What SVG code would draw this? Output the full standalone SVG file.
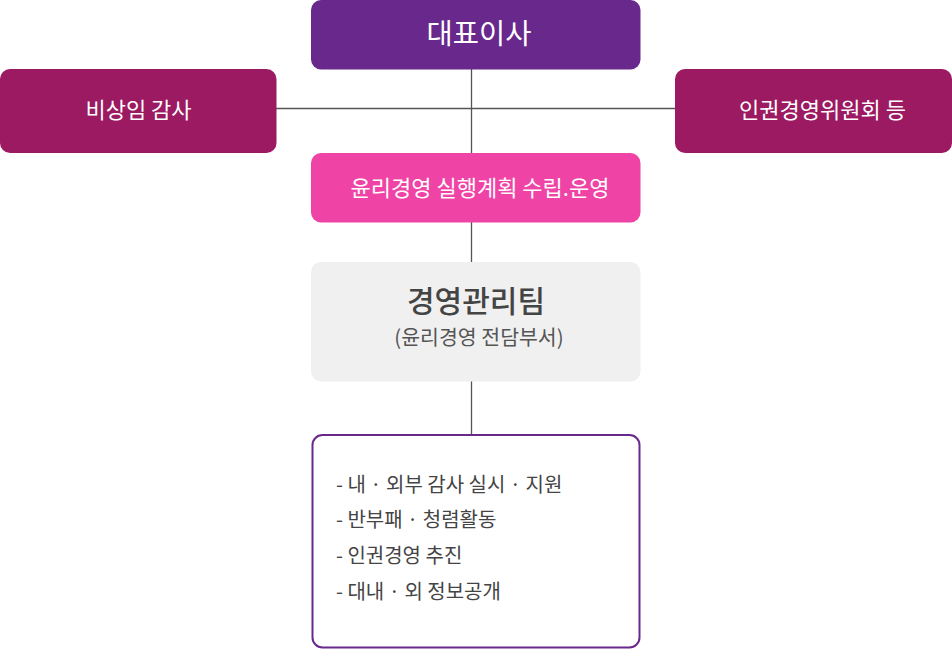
<svg xmlns="http://www.w3.org/2000/svg" width="952" height="649" viewBox="0 0 952 649">
<style>
text{font-family:"Noto Sans CJK KR","Noto Sans",sans-serif;}
.w{fill:#ffffff;font-size:22px;text-anchor:middle;font-weight:400;}
.line{stroke:#555555;stroke-width:1.3;fill:none;}
.li{fill:#444444;font-size:20px;font-weight:400;}
</style>
<rect width="952" height="649" fill="#ffffff"/>
<g id="connectors">
<line class="line" x1="471.5" y1="69" x2="471.5" y2="154"/>
<line class="line" x1="276" y1="108.5" x2="676" y2="108.5"/>
<line class="line" x1="471.5" y1="222" x2="471.5" y2="263"/>
<line class="line" x1="471.5" y1="381" x2="471.5" y2="435"/>
</g>
<g id="ceo">
<rect x="311" y="0" width="329.5" height="69.5" rx="10" fill="#68288c"/>
<text x="479" y="44" class="w" style="font-size:28.5px">대표이사</text>
</g>
<g id="auditor">
<rect x="0" y="69" width="276.5" height="84" rx="10" fill="#9b1a61"/>
<text x="138.5" y="118" class="w">비상임 감사</text>
</g>
<g id="committee">
<rect x="675" y="69" width="277" height="84" rx="10" fill="#9b1a61"/>
<text x="822.5" y="118" class="w">인권경영위원회 등</text>
</g>
<g id="plan">
<rect x="311" y="153" width="329.5" height="69.5" rx="10" fill="#f043a6"/>
<text x="480" y="196" class="w">윤리경영 실행계획 수립.운영</text>
</g>
<g id="team">
<rect x="311" y="262" width="329.5" height="119.5" rx="10" fill="#f0f0f0"/>
<text x="476" y="312" style="fill:#444444;font-size:30px;font-weight:500;text-anchor:middle">경영관리팀</text>
<text x="479" y="345" style="fill:#555555;font-size:20.5px;font-weight:400;text-anchor:middle">(윤리경영 전담부서)</text>
</g>
<g id="duties">
<rect x="312.5" y="435" width="327" height="212.5" rx="10" fill="#ffffff" stroke="#68288c" stroke-width="2"/>
<text x="336" y="492" class="li">- 내 · 외부 감사 실시 · 지원</text>
<text x="336" y="527" class="li">- 반부패 · 청렴활동</text>
<text x="336" y="563" class="li">- 인권경영 추진</text>
<text x="336" y="599" class="li">- 대내 · 외 정보공개</text>
</g>
</svg>
